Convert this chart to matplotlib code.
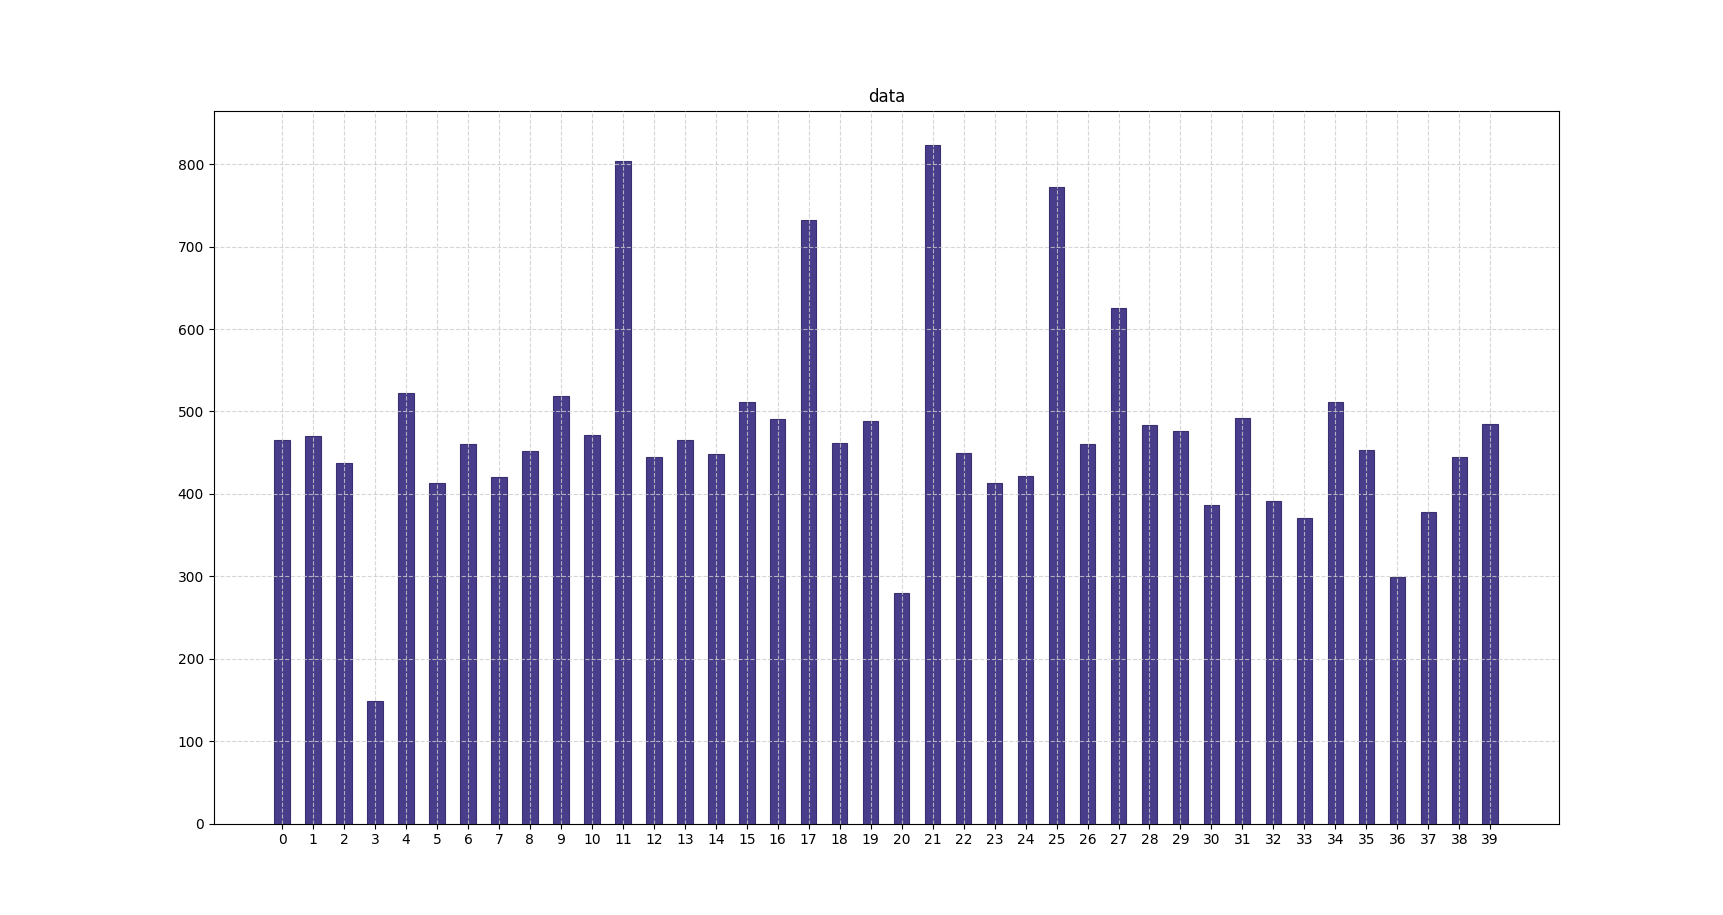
import matplotlib
matplotlib.use("Agg")
import matplotlib.pyplot as plt

categories = list(range(40))
values = [465, 470, 438, 149, 523, 413, 461, 421, 452, 519,
          472, 804, 445, 466, 448, 512, 491, 732, 462, 489,
          280, 824, 450, 413, 422, 773, 461, 625, 484, 476,
          387, 492, 391, 371, 512, 453, 299, 378, 445, 485]

fig = plt.figure(figsize=(17.23, 9.15), dpi=100)
ax = fig.add_axes([0.124, 0.10, 0.781, 0.779])
ax.bar(categories, values, width=0.5, color="#483d8b", edgecolor="#3a3070", linewidth=0.8)
ax.set_xticks(categories)
ax.set_xticklabels([str(c) for c in categories])
ax.set_xlim(-2.21, 41.23)
ax.set_ylim(0, 865)
ax.set_axisbelow(False)
ax.grid(True, linestyle="--", color="#cccccc", alpha=0.8, linewidth=0.8)
ax.set_title("data")
fig.savefig("out.png")
